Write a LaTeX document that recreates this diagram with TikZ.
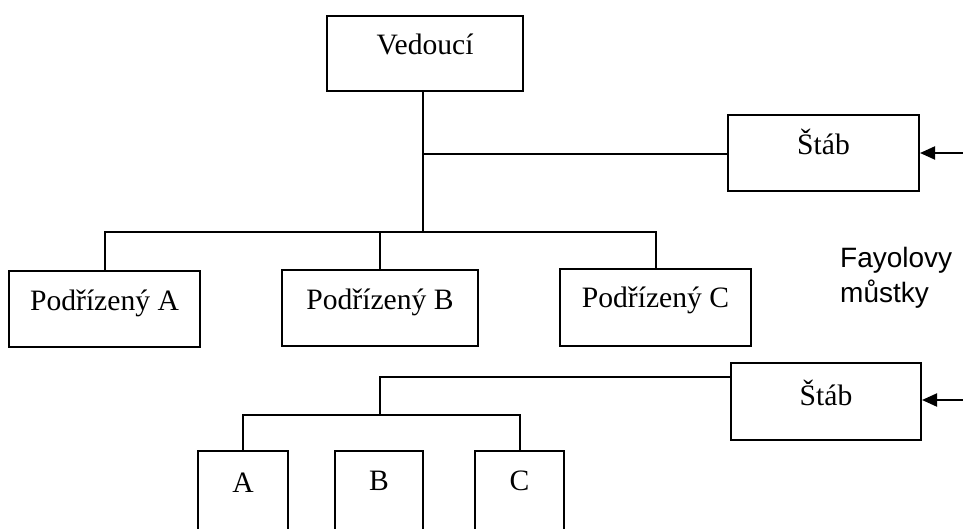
\documentclass[tikz,border=0pt]{standalone}
\usepackage{fontspec}
\setmainfont{Liberation Serif}
\newfontfamily\labelsans{Liberation Sans}
\usetikzlibrary{arrows.meta}
\begin{document}
\begin{tikzpicture}[x=1pt,y=-1pt,
  box/.style={draw,line width=2pt,inner sep=0pt,
    font=\fontsize{29.6}{34}\selectfont},
  link/.style={line width=2pt},
  feed/.style={line width=2pt,-{Triangle[length=15pt,width=13pt]}},
  note/.style={font=\labelsans\fontsize{28}{35}\selectfont,anchor=base west,inner sep=0pt}]
\clip (0,0) rectangle (963,529);
\fill[white] (0,0) rectangle (963,529);

% upper level: head, staff and subordinates
\node[box,minimum width=196pt,text height=39pt,text depth=36pt] (ved) at (425,53.5) {Vedoucí};
\node[box,minimum width=191pt,text height=40pt,text depth=36pt] (stabA) at (823.5,153) {Štáb};
\node[box,minimum width=191pt,text height=39pt,text depth=37pt] (podA) at (104.5,309) {Podřízený A};
\node[box,minimum width=196pt,text height=39pt,text depth=37pt] (podB) at (380,308) {Podřízený B};
\node[box,minimum width=191pt,text height=38pt,text depth=39pt] (podC) at (655.5,307.5) {Podřízený C};

% lower level: staff and units A, B, C
\node[box,minimum width=190pt,text height=42pt,text depth=35pt] (stabB) at (826,401.5) {Štáb};
\node[box,minimum width=90pt,text height=41pt,text depth=108pt] (a) at (243,525.5) {A};
\node[box,minimum width=88pt,text height=39pt,text depth=110pt] (b) at (379,525.5) {B};
\node[box,minimum width=89pt,text height=39pt,text depth=110pt] (c) at (519.5,525.5) {C};

\node[note] (fay) at (840,267) {Fayolovy};
\node[note] (mus) at (840,302) {můstky};

% junctions
\coordinate (j1) at (423,154);
\coordinate (bus1) at (423,232);
\coordinate (j2) at (380,377);
\coordinate (bus2) at (380,415);
\coordinate (inA) at (963,153);
\coordinate (inB) at (963,400);

% upper connectors
\draw[link] (ved.south -| j1) -- (bus1);
\draw[link] (j1) -- (stabA.west |- j1);
\draw[link] (podA.north) |- (bus1) -| (podC.north);
\draw[link] (bus1 -| podB.north) -- (podB.north);
\draw[feed] (inA) -- (stabA.east |- inA);

% lower connectors
\draw[link] (stabB.west |- j2) -- (j2) -- (bus2);
\draw[link] (a.north) |- (bus2) -| (c.north);
\draw[feed] (inB) -- (stabB.east |- inB);
\end{tikzpicture}
\end{document}
